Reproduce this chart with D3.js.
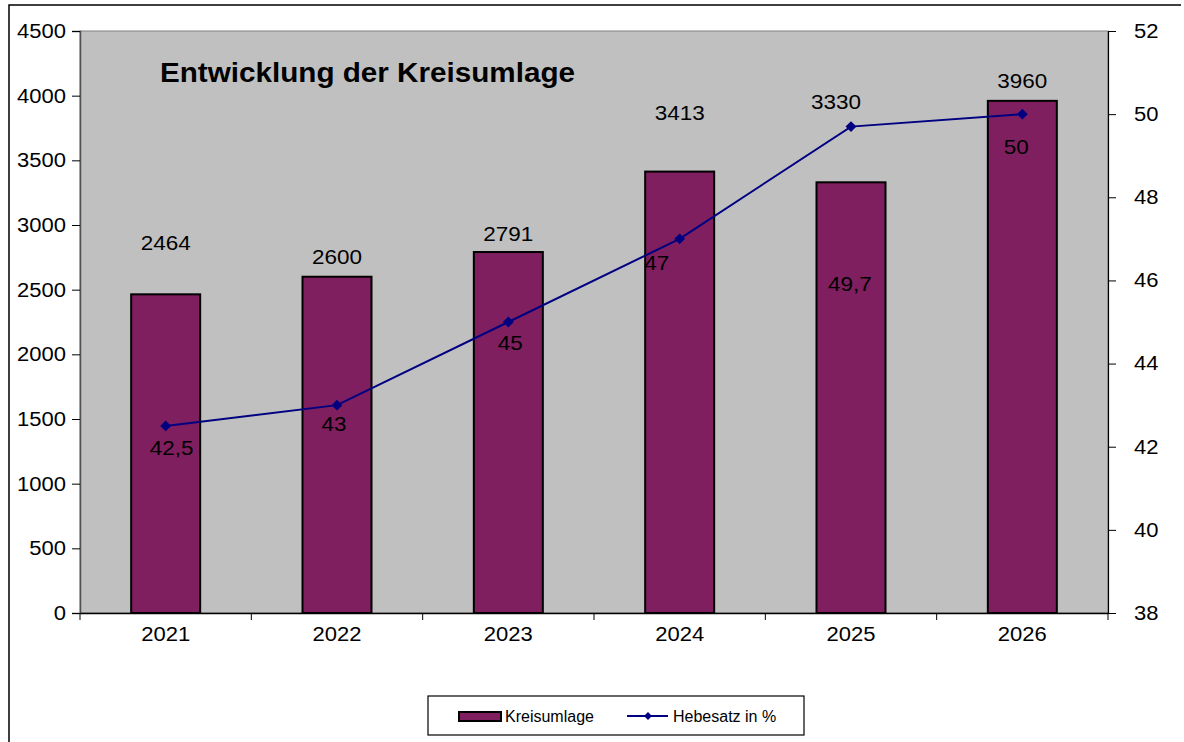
<!DOCTYPE html>
<html><head><meta charset="utf-8">
<script src="https://cdn.jsdelivr.net/npm/d3@7"></script>
<style>
html,body{margin:0;padding:0;background:#fff;}
svg{display:block;font-family:"Liberation Sans",Arial,sans-serif;}
</style></head>
<body>
<svg id="c" width="1184" height="742"></svg>
<script>
// ---- data ----
const years = ["2021","2022","2023","2024","2025","2026"];
const kreisumlage = [2464, 2600, 2791, 3413, 3330, 3960];
const hebesatz = [42.5, 43, 45, 47, 49.7, 50];
const hebesatzLabels = ["42,5","43","45","47","49,7","50"];
const leftTicks = [0,500,1000,1500,2000,2500,3000,3500,4000,4500];
const rightTicks = [38,40,42,44,46,48,50,52];
const title = "Entwicklung der Kreisumlage";
const legendNames = ["Kreisumlage","Hebesatz in %"];

// ---- label placement (pixel offsets, layout only) ----
const barLabelOffset = [[0,-44],[0,-13],[0,-11],[0,-52],[-15,-73],[0,-13]];
const lineLabelOffset = [[6,29],[-3,26],[2,28],[-23,31],[-1,164],[-6,40]];

const svg = d3.select("#c");
const m = {l:80, r:1108, t:31, b:613};
const purple = "#7F1F5F", navy = "#000080";

function stretch(sel, f){
  sel.each(function(){
    const w = this.getComputedTextLength();
    d3.select(this).attr("textLength", w*f).attr("lengthAdjust","spacingAndGlyphs");
  });
}

// outer border
svg.append("path").attr("d","M9,742 L9,5 L1181,5").attr("fill","none").attr("stroke","#000").attr("stroke-width",1.5);

const xb = d3.scaleBand().domain(years).range([m.l,m.r]);
const yL = d3.scaleLinear().domain([0,4500]).range([m.b,m.t]);
const yR = d3.scaleLinear().domain([38,52]).range([m.b,m.t]);

// plot area
svg.append("rect").attr("x",m.l).attr("y",m.t).attr("width",m.r-m.l).attr("height",m.b-m.t)
  .attr("fill","#C0C0C0").attr("stroke","#808080").attr("stroke-width",1);

// title
const tt = svg.append("text").attr("x",160).attr("y",82).attr("font-size",27).attr("font-weight","bold")
  .attr("fill","#000").text(title);
tt.attr("textLength",415).attr("lengthAdjust","spacingAndGlyphs");

// bars
svg.selectAll("rect.bar").data(kreisumlage).join("rect").attr("class","bar")
  .attr("x",(d,i)=>xb(years[i])+xb.bandwidth()/2-34.5)
  .attr("width",69)
  .attr("y",d=>yL(d)).attr("height",d=>yL(0)-yL(d))
  .attr("fill",purple).attr("stroke","#000").attr("stroke-width",2);

// left axis
const axL = svg.append("g").attr("transform",`translate(${m.l},0)`)
  .call(d3.axisLeft(yL).tickValues(leftTicks).tickSize(8).tickPadding(14).tickFormat(d3.format("d")));
axL.select(".domain").attr("stroke","#505050").attr("stroke-width",1.5);
axL.selectAll(".tick line").attr("stroke","#000");
axL.selectAll("text").attr("font-size",20).attr("font-family","Liberation Sans, Arial").attr("fill","#000")
  .attr("text-anchor","end").attr("x",-14);
stretch(axL.selectAll("text"),1.1);

// right axis
const axR = svg.append("g").attr("transform",`translate(${m.r},0)`)
  .call(d3.axisRight(yR).tickValues(rightTicks).tickSize(8).tickPadding(18).tickFormat(d3.format("d")));
axR.select(".domain").attr("stroke","#000").attr("stroke-width",1.2);
axR.selectAll(".tick line").attr("stroke","#000");
axR.selectAll("text").attr("font-size",20).attr("font-family","Liberation Sans, Arial").attr("fill","#000");
stretch(axR.selectAll("text"),1.1);

// bottom axis
const axB = svg.append("g").attr("transform",`translate(0,${m.b})`)
  .call(d3.axisBottom(xb).tickSize(0).tickPadding(14));
axB.select(".domain").attr("stroke","#000").attr("stroke-width",1.5);
axB.selectAll("text").attr("font-size",20).attr("font-family","Liberation Sans, Arial").attr("fill","#000");
stretch(axB.selectAll("text"),1.1);
// category separator ticks
const seps = d3.range(years.length+1).map(i=>m.l+i*xb.step());
svg.selectAll("line.sep").data(seps).join("line").attr("class","sep")
  .attr("x1",d=>d).attr("x2",d=>d).attr("y1",m.b).attr("y2",m.b+7).attr("stroke","#000").attr("stroke-width",1);

// line
const cx = (i)=>xb(years[i])+xb.bandwidth()/2;
const line = d3.line().x((d,i)=>cx(i)).y(d=>yR(d));
svg.append("path").datum(hebesatz).attr("d",line).attr("fill","none").attr("stroke",navy).attr("stroke-width",2);
svg.selectAll("path.mk").data(hebesatz).join("path").attr("class","mk")
  .attr("d",d3.symbol().type(d3.symbolDiamond2).size(75))
  .attr("transform",(d,i)=>`translate(${cx(i)},${yR(d)})`).attr("fill",navy);

// bar labels
const bl = svg.selectAll("text.bl").data(kreisumlage).join("text").attr("class","bl")
  .attr("x",(d,i)=>cx(i)+barLabelOffset[i][0]).attr("y",(d,i)=>yL(d)+barLabelOffset[i][1])
  .attr("text-anchor","middle").attr("font-size",21).attr("fill","#000").text(d=>d);
stretch(bl,1.07);

// line labels
const ll = svg.selectAll("text.ll").data(hebesatz).join("text").attr("class","ll")
  .attr("x",(d,i)=>cx(i)+lineLabelOffset[i][0]).attr("y",(d,i)=>yR(d)+lineLabelOffset[i][1])
  .attr("text-anchor","middle").attr("font-size",21).attr("fill","#000").text((d,i)=>hebesatzLabels[i]);
stretch(ll,1.07);

// legend
const lg = svg.append("g");
lg.append("rect").attr("x",428).attr("y",696).attr("width",376).attr("height",39)
  .attr("fill","#fff").attr("stroke","#000").attr("stroke-width",1.2);
lg.append("rect").attr("x",459).attr("y",712).attr("width",42).attr("height",9)
  .attr("fill",purple).attr("stroke","#000").attr("stroke-width",2);
lg.append("text").attr("x",505).attr("y",722).attr("font-size",16).attr("fill","#000").text(legendNames[0]);
lg.append("line").attr("x1",627).attr("x2",668).attr("y1",716).attr("y2",716).attr("stroke",navy).attr("stroke-width",2);
lg.append("path").attr("d",d3.symbol().type(d3.symbolDiamond2).size(40)).attr("transform","translate(648,716)").attr("fill",navy);
lg.append("text").attr("x",673).attr("y",722).attr("font-size",16).attr("fill","#000").text(legendNames[1]);
</script>
</body></html>
